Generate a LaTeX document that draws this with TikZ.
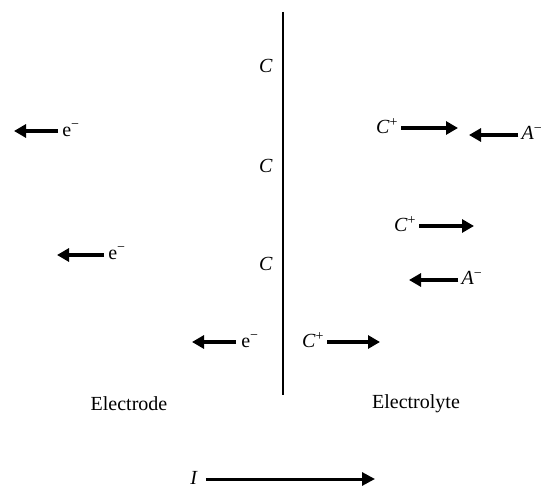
\documentclass[tikz,border=0pt]{standalone}
\usepackage{fontspec}
\setmainfont{Liberation Serif}
\usetikzlibrary{arrows.meta}
\begin{document}
\begin{tikzpicture}[x=1pt,y=-1pt,
  lbl/.style={inner sep=0pt,font=\fontsize{20}{23}\selectfont},
  flow/.style={line width=3.6pt,-{Triangle[length=12pt,width=13pt]}},
  wall/.style={line width=2pt}]
\useasboundingbox (0,0) rectangle (549,489);
% interface
\coordinate (top) at (283,12);
\coordinate (bot) at (283,395);
\draw[wall] (top) -- (bot);
\node[lbl] (c1) at (266,66) {\textit{C}};
\node[lbl] (c2) at (266,166) {\textit{C}};
\node[lbl] (c3) at (266,264) {\textit{C}};
% electrons
\node[lbl] (e1) at (71,130) {e\textsuperscript{\char"2212}};
\coordinate (e1t) at (14,131);
\draw[flow] ([xshift=-4pt]e1.west |- e1t) -- (e1t);
\node[lbl] (e2) at (117,253) {e\textsuperscript{\char"2212}};
\coordinate (e2t) at (57,255);
\draw[flow] ([xshift=-4pt]e2.west |- e2t) -- (e2t);
\node[lbl] (e3) at (250,341) {e\textsuperscript{\char"2212}};
\coordinate (e3t) at (192,342);
\draw[flow] ([xshift=-5pt]e3.west |- e3t) -- (e3t);
% cations / anions
\node[lbl] (k1) at (387,126) {\textit{C}\textsuperscript{+}};
\coordinate (k1t) at (458,128);
\draw[flow] ([xshift=3pt]k1.east |- k1t) -- (k1t);
\node[lbl] (a1) at (532,133) {\textit{A}\textsuperscript{\char"2212}};
\coordinate (a1t) at (469,135);
\draw[flow] ([xshift=-3pt]a1.west |- a1t) -- (a1t);
\node[lbl] (k2) at (405,224) {\textit{C}\textsuperscript{+}};
\coordinate (k2t) at (474,226);
\draw[flow] ([xshift=3pt]k2.east |- k2t) -- (k2t);
\node[lbl] (a2) at (472,278) {\textit{A}\textsuperscript{\char"2212}};
\coordinate (a2t) at (409,280);
\draw[flow] ([xshift=-3pt]a2.west |- a2t) -- (a2t);
\node[lbl] (k3) at (313,340) {\textit{C}\textsuperscript{+}};
\coordinate (k3t) at (380,342);
\draw[flow] ([xshift=3pt]k3.east |- k3t) -- (k3t);
% labels
\node[lbl] (electrode) at (129,404) {Electrode};
\node[lbl] (electrolyte) at (416,404) {Electrolyte};
% current
\node[lbl] (cur) at (194,478) {\textit{I}};
\coordinate (curt) at (375,479);
\draw[line width=3pt,-{Triangle[length=13pt,width=13pt]}] ([xshift=8pt]cur.east |- curt) -- (curt);
\end{tikzpicture}
\end{document}
